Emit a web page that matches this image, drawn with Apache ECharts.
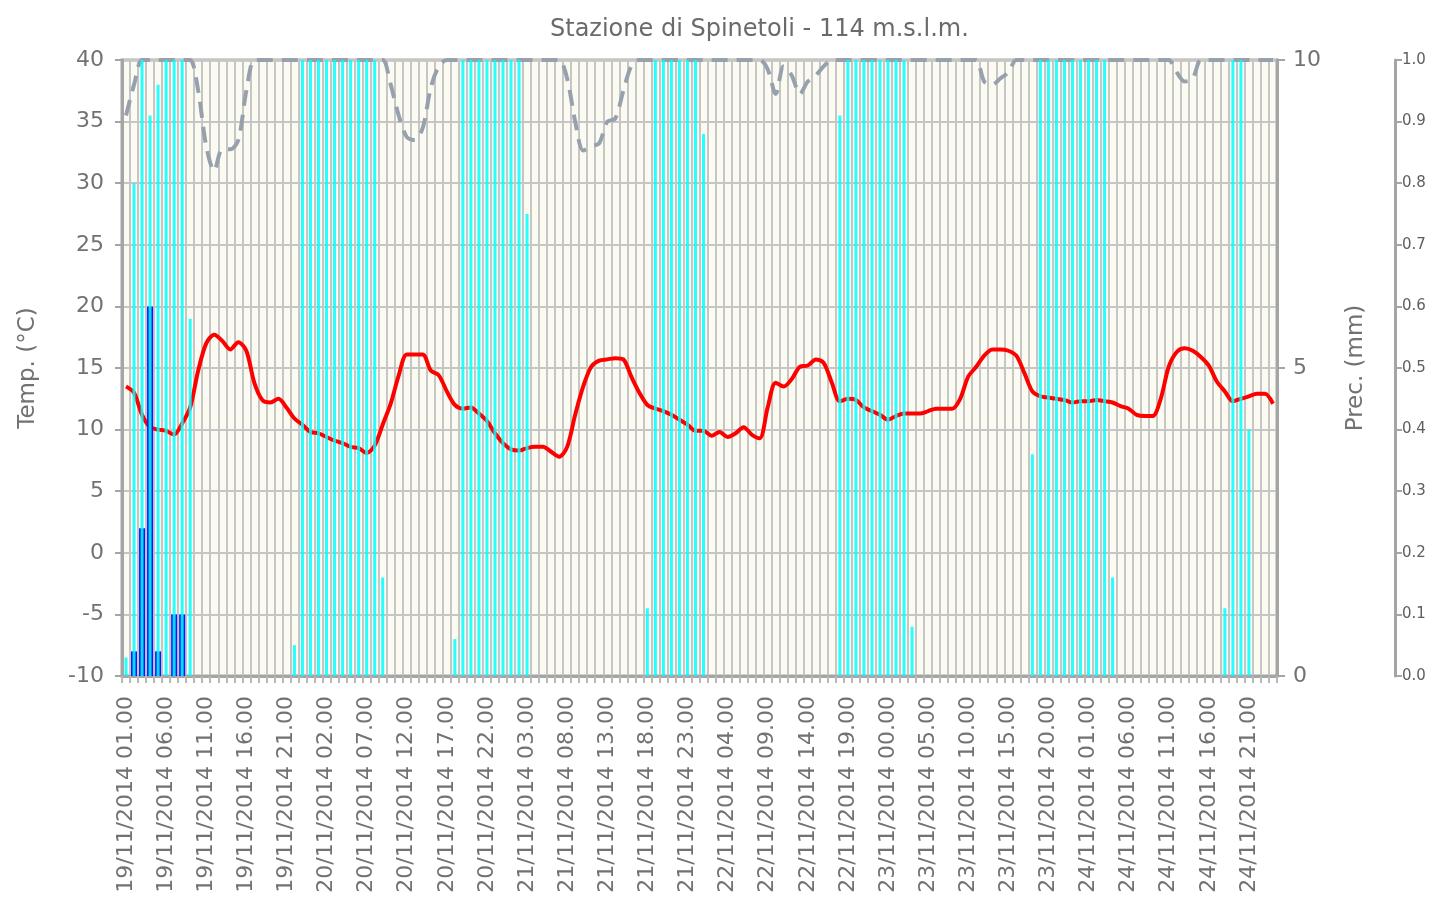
<!DOCTYPE html>
<html><head><meta charset="utf-8">
<script src="https://cdn.jsdelivr.net/npm/echarts@6/dist/echarts.min.js"></script>
<style>html,body{margin:0;padding:0;background:#fff}#c{width:1442px;height:911px}</style>
</head><body><div id="c"></div>
<script>
const categories = [
'19/11/2014 01.00','19/11/2014 02.00','19/11/2014 03.00','19/11/2014 04.00','19/11/2014 05.00','19/11/2014 06.00','19/11/2014 07.00','19/11/2014 08.00','19/11/2014 09.00','19/11/2014 10.00','19/11/2014 11.00','19/11/2014 12.00','19/11/2014 13.00','19/11/2014 14.00','19/11/2014 15.00','19/11/2014 16.00','19/11/2014 17.00','19/11/2014 18.00','19/11/2014 19.00','19/11/2014 20.00','19/11/2014 21.00','19/11/2014 22.00','19/11/2014 23.00',
'20/11/2014 00.00','20/11/2014 01.00','20/11/2014 02.00','20/11/2014 03.00','20/11/2014 04.00','20/11/2014 05.00','20/11/2014 06.00','20/11/2014 07.00','20/11/2014 08.00','20/11/2014 09.00','20/11/2014 10.00','20/11/2014 11.00','20/11/2014 12.00','20/11/2014 13.00','20/11/2014 14.00','20/11/2014 15.00','20/11/2014 16.00','20/11/2014 17.00','20/11/2014 18.00','20/11/2014 19.00','20/11/2014 20.00','20/11/2014 21.00','20/11/2014 22.00','20/11/2014 23.00',
'21/11/2014 00.00','21/11/2014 01.00','21/11/2014 02.00','21/11/2014 03.00','21/11/2014 04.00','21/11/2014 05.00','21/11/2014 06.00','21/11/2014 07.00','21/11/2014 08.00','21/11/2014 09.00','21/11/2014 10.00','21/11/2014 11.00','21/11/2014 12.00','21/11/2014 13.00','21/11/2014 14.00','21/11/2014 15.00','21/11/2014 16.00','21/11/2014 17.00','21/11/2014 18.00','21/11/2014 19.00','21/11/2014 20.00','21/11/2014 21.00','21/11/2014 22.00','21/11/2014 23.00',
'22/11/2014 00.00','22/11/2014 01.00','22/11/2014 02.00','22/11/2014 03.00','22/11/2014 04.00','22/11/2014 05.00','22/11/2014 06.00','22/11/2014 07.00','22/11/2014 08.00','22/11/2014 09.00','22/11/2014 10.00','22/11/2014 11.00','22/11/2014 12.00','22/11/2014 13.00','22/11/2014 14.00','22/11/2014 15.00','22/11/2014 16.00','22/11/2014 17.00','22/11/2014 18.00','22/11/2014 19.00','22/11/2014 20.00','22/11/2014 21.00','22/11/2014 22.00','22/11/2014 23.00',
'23/11/2014 00.00','23/11/2014 01.00','23/11/2014 02.00','23/11/2014 03.00','23/11/2014 04.00','23/11/2014 05.00','23/11/2014 06.00','23/11/2014 07.00','23/11/2014 08.00','23/11/2014 09.00','23/11/2014 10.00','23/11/2014 11.00','23/11/2014 12.00','23/11/2014 13.00','23/11/2014 14.00','23/11/2014 15.00','23/11/2014 16.00','23/11/2014 17.00','23/11/2014 18.00','23/11/2014 19.00','23/11/2014 20.00','23/11/2014 21.00','23/11/2014 22.00','23/11/2014 23.00',
'24/11/2014 00.00','24/11/2014 01.00','24/11/2014 02.00','24/11/2014 03.00','24/11/2014 04.00','24/11/2014 05.00','24/11/2014 06.00','24/11/2014 07.00','24/11/2014 08.00','24/11/2014 09.00','24/11/2014 10.00','24/11/2014 11.00','24/11/2014 12.00','24/11/2014 13.00','24/11/2014 14.00','24/11/2014 15.00','24/11/2014 16.00','24/11/2014 17.00','24/11/2014 18.00','24/11/2014 19.00','24/11/2014 20.00','24/11/2014 21.00','24/11/2014 22.00','24/11/2014 23.00',
'25/11/2014 00.00'
];

// Temperature (°C)
const temperature = [
13.5,13.0,11.2,10.2,10.0,9.9,9.6,10.5,11.8,14.8,
17.0,17.7,17.2,16.5,17.1,16.4,13.8,12.4,12.2,12.5,
11.8,10.9,10.4,9.8,9.7,9.4,9.1,8.9,8.6,8.5,
8.1,8.7,10.4,12.1,14.4,16.1,16.1,16.1,14.8,14.4,
13.1,12.0,11.7,11.8,11.3,10.7,9.7,8.9,8.4,8.3,
8.5,8.6,8.6,8.2,7.8,8.6,11.2,13.5,15.1,15.6,
15.7,15.8,15.7,14.3,13.0,12.0,11.7,11.5,11.2,10.8,
10.4,9.9,9.9,9.5,9.8,9.4,9.7,10.2,9.6,9.3,
11.8,13.8,13.5,14.1,15.1,15.2,15.7,15.4,13.8,12.3,
12.5,12.4,11.8,11.5,11.2,10.8,11.1,11.3,11.3,11.3,
11.5,11.7,11.7,11.7,12.5,14.3,15.1,16.0,16.5,16.5,
16.4,16.0,14.6,13.1,12.7,12.6,12.5,12.4,12.2,12.3,
12.3,12.4,12.3,12.2,11.9,11.7,11.2,11.1,11.1,12.5,
15.1,16.3,16.6,16.4,15.9,15.2,13.9,13.1,12.3,12.5,
12.7,12.9,12.9,12.1
];

// Relative humidity (fraction)
const humidity = [
0.91,0.96,1,1,1,1,1,1,1,0.95,
0.86,0.82,0.855,0.855,0.87,0.95,1,1,1,1,
1,1,1,1,1,1,1,1,1,1,
1,1,1,0.96,0.91,0.875,0.87,0.89,0.955,0.99,
1,1,1,1,1,1,1,1,1,1,
1,1,1,1,1,0.97,0.90,0.853,0.86,0.865,
0.90,0.905,0.95,0.99,1,1,1,1,1,1,
1,1,1,1,1,1,1,1,1,1,
0.985,0.945,0.99,0.975,0.945,0.965,0.975,0.99,1,1,
1,1,1,1,1,1,1,1,1,1,
1,1,1,1,1,1,1,0.965,0.96,0.97,
0.98,1,1,1,1,1,1,1,1,1,
1,1,1,1,1,1,1,1,1,1,
1,0.98,0.965,0.97,1,1,1,1,1,1,
1,1,1,1
];

// Leaf wetness (fraction)
const wetness = [
0.03,0.80,1,0.91,0.96,1,1,1,0.58,0,
0,0,0,0,0,0,0,0,0,0,
0,0.05,1,1,1,1,1,1,1,1,
1,1,0.16,0,0,0,0,0,0,0,
0,0.06,1,1,1,1,1,1,1,1,
0.75,0,0,0,0,0,0,0,0,0,
0,0,0,0,0,0.11,1,1,1,1,
1,1,0.88,0,0,0,0,0,0,0,
0,0,0,0,0,0,0,0,0,0.91,
1,1,1,1,1,1,1,1,0.08,0,
0,0,0,0,0,0,0,0,0,0,
0,0,0,0.36,1,1,1,1,1,1,
1,1,1,0.16,0,0,0,0,0,0,
0,0,0,0,0,0,0,0.11,1,1,
0.40,0,0,0
];

// Precipitation (mm)
const precipitation = [
0,0.4,2.4,6.0,0.4,0,1.0,1.0,0,0,
0,0,0,0,0,0,0,0,0,0,
0,0,0,0,0,0,0,0,0,0,
0,0,0,0,0,0,0,0,0,0,
0,0,0,0,0,0,0,0,0,0,
0,0,0,0,0,0,0,0,0,0,
0,0,0,0,0,0,0,0,0,0,
0,0,0,0,0,0,0,0,0,0,
0,0,0,0,0,0,0,0,0,0,
0,0,0,0,0,0,0,0,0,0,
0,0,0,0,0,0,0,0,0,0,
0,0,0,0,0,0,0,0,0,0,
0,0,0,0,0,0,0,0,0,0,
0,0,0,0,0,0,0,0,0,0,
0,0,0,0
];

const tempTicks = [-10,-5,0,5,10,15,20,25,30,35,40];
const precTicks = [0,5,10];
const fracTicks = [0.0,0.1,0.2,0.3,0.4,0.5,0.6,0.7,0.8,0.9,1.0];

const FONT = 'DejaVu Sans';
const AXIS_GREY = '#a5a5a5';
const GRID_GREY = '#c6c6c6';
const TEXT_GREY = '#727272';

const chart = echarts.init(document.getElementById('c'), null, {renderer: 'canvas'});
chart.setOption({
  animation: false,
  backgroundColor: '#ffffff',
  title: {
    text: 'Stazione di Spinetoli - 114 m.s.l.m.',
    left: 545, top: 13,
    textStyle: {fontFamily: FONT, fontSize: 24, fontWeight: 'normal', color: '#6a6a6a'}
  },
  grid: {
    left: 122, right: 165, top: 60, bottom: 235,
    show: true, backgroundColor: '#fcfbf2', borderColor: AXIS_GREY, borderWidth: 3
  },
  xAxis: [{
    type: 'category', data: categories, boundaryGap: true,
    axisLine: {show: true, onZero: false, lineStyle: {color: AXIS_GREY, width: 3}},
    axisTick: {show: true, interval: 0, length: 7, lineStyle: {color: '#b8b8b8', width: 2}},
    axisLabel: {interval: 4, rotate: 90, margin: 20, fontFamily: FONT, fontSize: 22, color: TEXT_GREY, padding: [0, 0, 8, 0]},
    splitLine: {show: true, interval: 0, lineStyle: {color: GRID_GREY, width: 2}}
  }, {
    type: 'category', data: categories, boundaryGap: true, show: false,
    axisLine: {show: false, onZero: false}, axisTick: {show: false}, axisLabel: {show: false}, splitLine: {show: false}
  }],
  yAxis: [{
    type: 'value', position: 'left',
    min: tempTicks[0], max: tempTicks[tempTicks.length - 1], interval: tempTicks[1] - tempTicks[0],
    name: 'Temp. (°C)', nameLocation: 'middle', nameGap: 82, nameRotate: 90,
    nameTextStyle: {fontFamily: FONT, fontSize: 23, color: TEXT_GREY},
    axisLine: {show: true, onZero: false, lineStyle: {color: AXIS_GREY, width: 3}},
    axisTick: {show: true, length: 7, lineStyle: {color: AXIS_GREY, width: 2}},
    axisLabel: {margin: 18, fontFamily: FONT, fontSize: 22, color: TEXT_GREY},
    splitLine: {show: true, lineStyle: {color: GRID_GREY, width: 2}}
  }, {
    type: 'value', position: 'right',
    min: precTicks[0], max: precTicks[precTicks.length - 1], interval: precTicks[1] - precTicks[0],
    name: 'Prec. (mm)', nameLocation: 'middle', nameGap: 68, nameRotate: 90,
    nameTextStyle: {fontFamily: FONT, fontSize: 23, color: TEXT_GREY},
    axisLine: {show: true, onZero: false, lineStyle: {color: AXIS_GREY, width: 3}},
    axisTick: {show: true, length: 8, lineStyle: {color: AXIS_GREY, width: 2}},
    axisLabel: {margin: 16, fontFamily: FONT, fontSize: 22, color: TEXT_GREY},
    splitLine: {show: false}
  }, {
    type: 'value', position: 'right', offset: 118,
    min: fracTicks[0], max: fracTicks[fracTicks.length - 1], interval: 0.1,
    axisLine: {show: true, onZero: false, lineStyle: {color: AXIS_GREY, width: 3}},
    axisTick: {show: true, length: 7, lineStyle: {color: AXIS_GREY, width: 2}},
    axisLabel: {margin: 7, fontFamily: FONT, fontSize: 15, color: '#5e5e5e', formatter: v => v.toFixed(1)},
    splitLine: {show: false}
  }],
  series: [{
    name: 'Temperatura', type: 'line', xAxisIndex: 0, yAxisIndex: 0,
    data: temperature, smooth: 0.3, symbol: 'none', z: 2,
    lineStyle: {color: '#ff0000', width: 4}
  }, {
    name: 'Umidità', type: 'line', xAxisIndex: 0, yAxisIndex: 2,
    data: humidity, smooth: 0.3, symbol: 'none', z: 3,
    lineStyle: {color: '#97a1ad', width: 4, type: [16, 9]}
  }, {
    name: 'Precipitazione', type: 'bar', xAxisIndex: 0, yAxisIndex: 1,
    data: precipitation, barWidth: 6, z: 4,
    itemStyle: {color: '#1414ff'}
  }, {
    name: 'Bagnatura fogliare', type: 'bar', xAxisIndex: 1, yAxisIndex: 2,
    data: wetness, barWidth: 3, z: 5,
    itemStyle: {color: '#00ffff', opacity: 0.85}
  }]
});
</script>
</body></html>
